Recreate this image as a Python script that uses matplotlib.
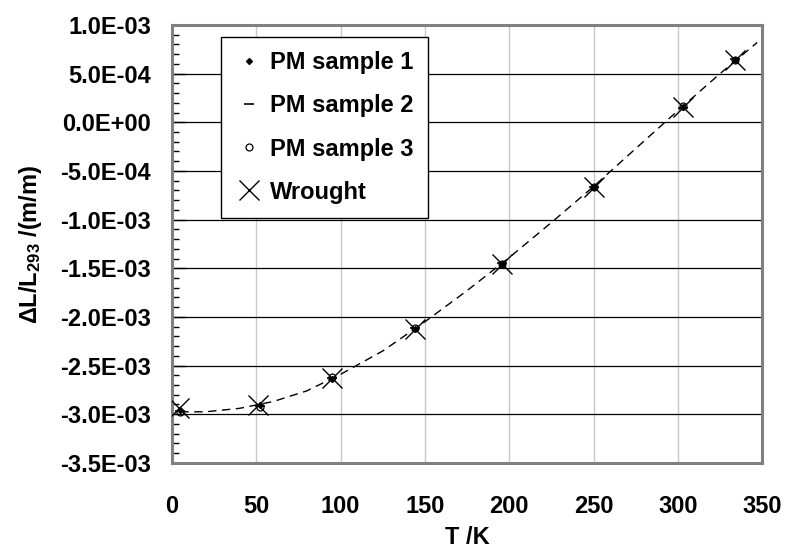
import matplotlib
matplotlib.use("Agg")
import matplotlib.pyplot as plt
from matplotlib.ticker import MultipleLocator, FormatStrFormatter
from matplotlib.lines import Line2D

# measured points (T in K, strain in m/m)
T_wrought = [4, 51, 95, 144, 196, 250, 303, 334]
dl_wrought = [-2.94e-3, -2.905e-3, -2.63e-3, -2.12e-3, -1.46e-3, -0.67e-3, 0.16e-3, 0.645e-3]

T_pm = [5, 52, 95, 144, 196, 250, 303, 334]
dl_pm1 = [-2.96e-3, -2.91e-3, -2.64e-3, -2.12e-3, -1.46e-3, -0.67e-3, 0.16e-3, 0.645e-3]
dl_pm2 = [-2.97e-3, -2.92e-3, -2.63e-3, -2.11e-3, -1.45e-3, -0.66e-3, 0.15e-3, 0.65e-3]
dl_pm3 = [-2.98e-3, -2.93e-3, -2.62e-3, -2.11e-3, -1.46e-3, -0.67e-3, 0.165e-3, 0.645e-3]

# fitted curve
T_fit = [5, 20, 40, 60, 80, 100, 125, 150, 175, 200, 225, 250, 275, 300, 325, 347]
dl_fit = [-2.975e-3, -2.975e-3, -2.94e-3, -2.87e-3, -2.76e-3, -2.59e-3, -2.35e-3, -2.05e-3,
          -1.73e-3, -1.39e-3, -1.03e-3, -0.66e-3, -0.27e-3, 0.12e-3, 0.50e-3, 0.82e-3]

plt.rcParams['font.family'] = ['Liberation Sans', 'DejaVu Sans']
plt.rcParams['font.weight'] = 'bold'
plt.rcParams['mathtext.default'] = 'regular'

FS = 17

fig = plt.figure(figsize=(7.85, 5.55), dpi=100)
ax = fig.add_axes([0.219, 0.166, 0.752, 0.789])

ax.plot(T_fit, dl_fit, color='black', lw=1.0, ls=(0, (6, 4)), zorder=3)
ax.plot(T_pm, dl_pm1, ls='none', marker='D', ms=3, color='black', zorder=4)
ax.plot(T_pm, dl_pm2, ls='none', marker='_', ms=7, mew=1.2, color='black', zorder=4)
ax.plot(T_pm, dl_pm3, ls='none', marker='o', ms=5, mfc='none', mec='black', mew=0.9, zorder=4)
ax.plot(T_wrought, dl_wrought, ls='none', marker='x', ms=15, mew=1.0, color='black', zorder=5)

ax.set_xlim(0, 350)
ax.set_ylim(-3.5e-3, 1.0e-3)
ax.xaxis.set_major_locator(MultipleLocator(50))
ax.yaxis.set_major_locator(MultipleLocator(0.5e-3))
ax.yaxis.set_minor_locator(MultipleLocator(1e-4))
ax.yaxis.set_major_formatter(FormatStrFormatter('%.1E'))

ax.grid(axis='y', which='major', color='black', lw=0.9)
ax.grid(axis='x', which='major', color='#c8c8c8', lw=1.0)
ax.set_axisbelow(True)

for s in ax.spines.values():
    s.set_color('#808080')
    s.set_linewidth(2.2)

ax.tick_params(axis='y', which='major', direction='in', length=10, width=1, color='black',
               labelsize=FS, pad=15)
ax.tick_params(axis='y', which='minor', direction='in', length=5, width=1, color='black')
ax.tick_params(axis='x', which='major', length=0, labelsize=FS, pad=23)
for lab in ax.get_xticklabels() + ax.get_yticklabels():
    lab.set_fontweight('bold')

ax.set_xlabel('T /K', fontsize=FS, fontweight='bold', labelpad=6)
ax.set_ylabel(r'$\Delta$L/L$_{293}$ /(m/m)', fontsize=FS, fontweight='bold', labelpad=12)

handles = [
    Line2D([], [], ls='none', marker='D', ms=3, color='black'),
    Line2D([], [], ls='none', marker='_', ms=7, mew=1.2, color='black'),
    Line2D([], [], ls='none', marker='o', ms=5, mfc='none', mec='black', mew=0.9),
    Line2D([], [], ls='none', marker='x', ms=15, mew=1.0, color='black'),
]
labels = ['PM sample 1', 'PM sample 2', 'PM sample 3', 'Wrought']
leg = ax.legend(handles, labels, loc='upper left', bbox_to_anchor=(0.0825, 0.972),
                borderaxespad=0, fancybox=False, framealpha=1, edgecolor='black',
                prop={'size': FS, 'weight': 'bold'}, labelspacing=0.85,
                handlelength=1.2, handletextpad=0.3, borderpad=0.6)
leg.get_frame().set_linewidth(1.0)

fig.savefig('out.png', dpi=100)
